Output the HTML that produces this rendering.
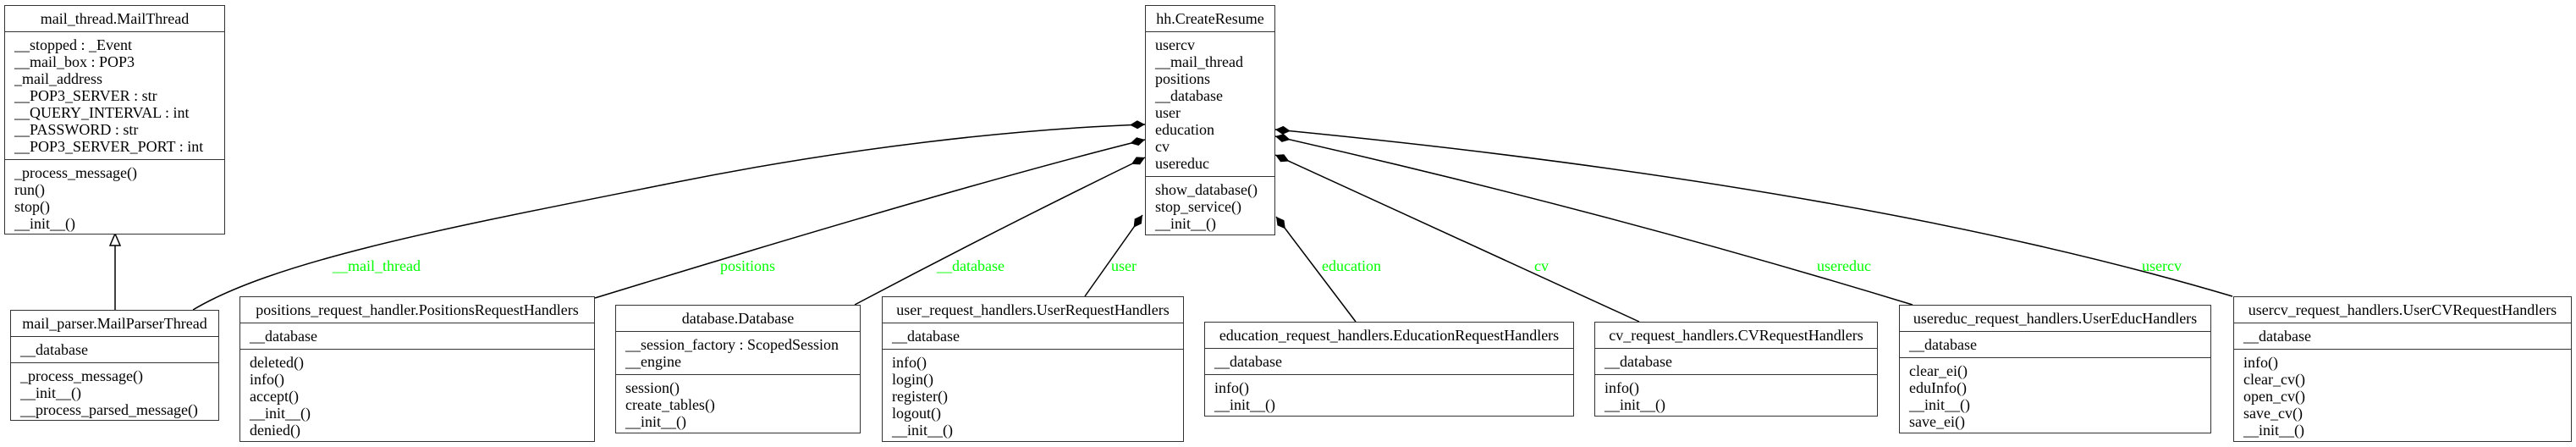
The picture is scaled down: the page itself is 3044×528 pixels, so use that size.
<!DOCTYPE html>
<html><head><meta charset="utf-8"><style>
html,body{margin:0;padding:0;background:#fff;}
body{width:3044px;height:528px;position:relative;overflow:hidden;font-family:"Liberation Serif",serif;font-size:18px;color:#000;}
.b{position:absolute;box-sizing:border-box;border:1.5px solid #333;background:#fff;display:flex;flex-direction:column;}
.h{height:31px;line-height:30px;text-align:center;border-bottom:1.5px solid #333;box-sizing:border-box;white-space:nowrap;}
.s{padding:5px 0 5px 11px;line-height:20px;border-bottom:1.5px solid #333;white-space:nowrap;}
.s:last-child{border-bottom:none;flex:1;}
.l{position:absolute;color:#00ff00;font-size:18px;line-height:20px;white-space:nowrap;}
svg{position:absolute;left:0;top:0;}
</style></head><body>
<svg width="3044" height="528" viewBox="0 0 3044 528">
<defs>
<marker id="d" markerUnits="userSpaceOnUse" markerWidth="20" markerHeight="12" refX="0" refY="6" orient="auto"><path d="M0,6 L9,1 L18,6 L9,11 Z" fill="#000"/></marker>
</defs>
<g fill="none" stroke="#000" stroke-width="1.5">
<path d="M1353,147 C1200,152 1000,175 800,215 C550,265 330,305 228,366" marker-start="url(#d)"/>
<path d="M1353,165 Q1150,215 703,352" marker-start="url(#d)"/>
<path d="M1353,186 Q1180,270 1010,360" marker-start="url(#d)"/>
<path d="M1350,254 L1282,350" marker-start="url(#d)"/>
<path d="M1508,256 L1602,380" marker-start="url(#d)"/>
<path d="M1507,183 L1937,380" marker-start="url(#d)"/>
<path d="M1507,161 Q1900,250 2260,360" marker-start="url(#d)"/>
<path d="M1507,153 Q2200,220 2638,350" marker-start="url(#d)"/>
<path d="M136,290 L136,366"/>
<path d="M136,276 L142,290 L130,290 Z" fill="#fff"/>
</g>
</svg>

<div class="l" style="left:393px;top:304px">__mail_thread</div>
<div class="l" style="left:851px;top:304px">positions</div>
<div class="l" style="left:1107px;top:304px">__database</div>
<div class="l" style="left:1313px;top:304px">user</div>
<div class="l" style="left:1562px;top:304px">education</div>
<div class="l" style="left:1813px;top:304px">cv</div>
<div class="l" style="left:2147px;top:304px">usereduc</div>
<div class="l" style="left:2531px;top:304px">usercv</div>

<div class="b" style="left:5px;top:6px;width:261px;height:271px">
<div class="h">mail_thread.MailThread</div>
<div class="s">__stopped : _Event<br>__mail_box : POP3<br>_mail_address<br>__POP3_SERVER : str<br>__QUERY_INTERVAL : int<br>__PASSWORD : str<br>__POP3_SERVER_PORT : int</div>
<div class="s">_process_message()<br>run()<br>stop()<br>__init__()</div>
</div>

<div class="b" style="left:12px;top:366px;width:247px;height:131px">
<div class="h">mail_parser.MailParserThread</div>
<div class="s">__database</div>
<div class="s">_process_message()<br>__init__()<br>__process_parsed_message()</div>
</div>

<div class="b" style="left:283px;top:350px;width:420px;height:172px">
<div class="h">positions_request_handler.PositionsRequestHandlers</div>
<div class="s">__database</div>
<div class="s">deleted()<br>info()<br>accept()<br>__init__()<br>denied()</div>
</div>

<div class="b" style="left:727px;top:360px;width:290px;height:152px">
<div class="h">database.Database</div>
<div class="s">__session_factory : ScopedSession<br>__engine</div>
<div class="s">session()<br>create_tables()<br>__init__()</div>
</div>

<div class="b" style="left:1042px;top:350px;width:357px;height:172px">
<div class="h">user_request_handlers.UserRequestHandlers</div>
<div class="s">__database</div>
<div class="s">info()<br>login()<br>register()<br>logout()<br>__init__()</div>
</div>

<div class="b" style="left:1353px;top:6px;width:154px;height:272px">
<div class="h">hh.CreateResume</div>
<div class="s">usercv<br>__mail_thread<br>positions<br>__database<br>user<br>education<br>cv<br>usereduc</div>
<div class="s">show_database()<br>stop_service()<br>__init__()</div>
</div>

<div class="b" style="left:1423px;top:380px;width:437px;height:112px">
<div class="h">education_request_handlers.EducationRequestHandlers</div>
<div class="s">__database</div>
<div class="s">info()<br>__init__()</div>
</div>

<div class="b" style="left:1884px;top:380px;width:335px;height:112px">
<div class="h">cv_request_handlers.CVRequestHandlers</div>
<div class="s">__database</div>
<div class="s">info()<br>__init__()</div>
</div>

<div class="b" style="left:2244px;top:360px;width:369px;height:152px">
<div class="h">usereduc_request_handlers.UserEducHandlers</div>
<div class="s">__database</div>
<div class="s">clear_ei()<br>eduInfo()<br>__init__()<br>save_ei()</div>
</div>

<div class="b" style="left:2639px;top:350px;width:400px;height:172px">
<div class="h">usercv_request_handlers.UserCVRequestHandlers</div>
<div class="s">__database</div>
<div class="s">info()<br>clear_cv()<br>open_cv()<br>save_cv()<br>__init__()</div>
</div>
</body></html>
